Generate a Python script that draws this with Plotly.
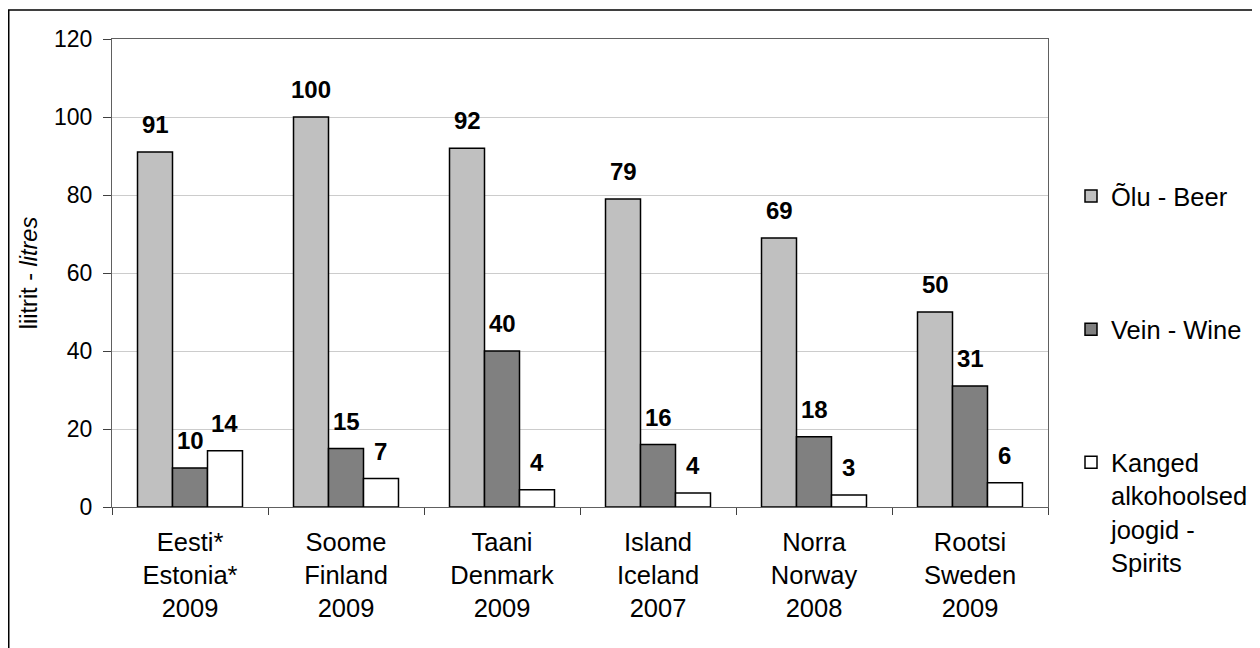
import plotly.graph_objects as go

categories = ["Eesti*<br>Estonia*<br>2009", "Soome<br>Finland<br>2009", "Taani<br>Denmark<br>2009",
              "Island<br>Iceland<br>2007", "Norra<br>Norway<br>2008", "Rootsi<br>Sweden<br>2009"]
beer = [91, 100, 92, 79, 69, 50]
wine = [10, 15, 40, 16, 18, 31]
spirits = [14.4, 7.3, 4.4, 3.6, 3.1, 6.2]
series_names = ["Õlu - Beer", "Vein - Wine", "Kanged<br>alkohoolsed<br>joogid -<br>Spirits"]
series_colors = ["#c0c0c0", "#808080", "#ffffff"]
y_ticks = [0, 20, 40, 60, 80, 100, 120]

W, H = 1260, 648
ML, MR, MT, MB = 104, 220, 31, 149
PW, PH = W - ML - MR, H - MT - MB
BARGAP = 0.327
FONT = "Liberation Sans, Arial, Helvetica, sans-serif"

fig = go.Figure()
all_series = [beer, wine, spirits]
for i, (name, vals, col) in enumerate(zip(series_names, all_series, series_colors)):
    fig.add_trace(go.Bar(
        x=categories, y=vals, name=name, legendgroup=f"g{i}",
        marker=dict(color=col, line=dict(color="#000000", width=1.5)),
        hoverinfo="x+y",
    ))

# data labels above bars
bar_w = PW / len(categories) * (1 - BARGAP) / 3
annotations = []
for i, vals in enumerate(all_series):
    for c, v in zip(categories, vals):
        annotations.append(dict(
            x=c, y=v, xref="x", yref="y", text=f"{v:.0f}", showarrow=False,
            yanchor="bottom", xanchor="center", xshift=(i - 1) * bar_w, yshift=12,
            font=dict(family=FONT, size=24, color="#000000", weight="bold"),
        ))

fig.update_layout(
    width=W, height=H,
    margin=dict(l=ML, r=MR, t=MT, b=MB, pad=0),
    paper_bgcolor="#ffffff", plot_bgcolor="#ffffff",
    barmode="group", bargap=BARGAP, bargroupgap=0,
    font=dict(family=FONT, size=25, color="#000000"),
    showlegend=True,
    legend=dict(
        xref="container", yref="container", x=1063 / W, y=1 - 165 / H,
        xanchor="left", yanchor="top", maxheight=640,
        font=dict(family=FONT, size=25.5, color="#000000"),
        tracegroupgap=97, valign="top", itemwidth=30,
        bgcolor="rgba(0,0,0,0)", traceorder="grouped",
    ),
    xaxis=dict(
        type="category", showline=True, linecolor="#606060", linewidth=1, mirror=True,
        ticks="outside", tickson="boundaries", ticklen=7, tickcolor="#404040",
        ticklabelstandoff=12,
        tickfont=dict(family=FONT, size=25.5, color="#000000"),
        showgrid=False, fixedrange=True,
    ),
    yaxis=dict(
        range=[0, 120], tickvals=y_ticks, showline=True, linecolor="#606060", linewidth=1, mirror=True,
        ticks="outside", ticklen=8, tickcolor="#404040", ticklabelstandoff=6,
        tickfont=dict(family=FONT, size=23, color="#000000"),
        showgrid=True, gridcolor="#cccccc", gridwidth=1, zeroline=False,
        title=dict(text="liitrit - <i>litres</i>", font=dict(family=FONT, size=23.5, color="#000000"), standoff=9),
        fixedrange=True,
    ),
    annotations=annotations,
    shapes=[dict(
        type="rect", xref="paper", yref="paper", layer="below",
        x0=(0.75 - ML) / PW, x1=(1275 - ML) / PW,
        y0=(H - MB - 665) / PH, y1=(H - MB - 2) / PH,
        line=dict(color="#000000", width=1.5), fillcolor="rgba(0,0,0,0)",
    )],
)

fig.write_html("out.html")
